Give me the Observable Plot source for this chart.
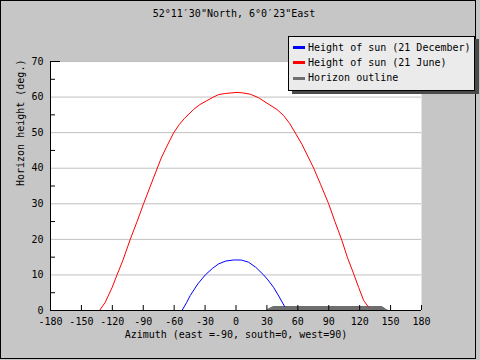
<!DOCTYPE html>
<html>
<head>
<meta charset="utf-8">
<script src="https://cdn.jsdelivr.net/npm/d3@7"></script>
<script src="https://cdn.jsdelivr.net/npm/@observablehq/plot@0.6"></script>
<style>
  html, body { margin: 0; padding: 0; background: #c6c6c6; }
  #wrap { position: relative; width: 480px; height: 360px; background: #c6c6c6; overflow: hidden;
          font-family: "DejaVu Sans Mono", monospace; font-size: 10px; color: #000; }
  #wrap svg { position: absolute; left: 0; top: 0; }
  .abs { position: absolute; white-space: pre; line-height: 12px; }
  #border { position: absolute; left: 0; top: 0; width: 476px; height: 359px; box-sizing: border-box; border: 1px solid #000; }
  #legend { position: absolute; left: 288px; top: 36px; width: 187px; height: 55px; box-sizing: border-box;
            background: #ebebeb; border: 1px solid #000; box-shadow: 4px 3px 0 #4a4a4a; }
  .sw { position: absolute; left: 4px; width: 12px; height: 3px; }
  .lt { position: absolute; left: 19px; line-height: 12px; white-space: pre; }
</style>
</head>
<body>
<div id="wrap"></div>
<script>
// ---- data ----
const title = "52°11′30\"North, 6°0′23\"East";
const xLabel = "Azimuth (east =-90, south=0, west=90)";
const yLabel = "Horizon height (deg.)";
const xTicks = [-180, -150, -120, -90, -60, -30, 0, 30, 60, 90, 120, 150, 180];
const yTicks = [0, 10, 20, 30, 40, 50, 60, 70];
const yMinor = [5, 15, 25, 35, 45, 55, 65];

const seriesNames = ["Height of sun (21 December)", "Height of sun (21 June)", "Horizon outline"];
const seriesColors = ["#0000ff", "#ff0000", "#6e6e6e"];

// 21 June
const junAz = [-132.4, -126.9, -120, -115.5, -110, -102.6, -96, -89.7, -80, -72.5, -66, -60.6, -55, -50, -41.2, -35, -28.2, -22, -16.9, -10.4, 0,
               6, 13.9, 22, 30, 39.8, 46.2, 52, 57.6, 64, 75.4, 82, 89.9, 96, 102.9, 108, 114.2, 119, 123.9, 128.7];
const junH  = [0, 2.3, 6.6, 10, 13.9, 20, 25, 30, 37.3, 42.9, 46.8, 49.9, 52.3, 54, 56.5, 57.9, 59, 60, 60.7, 61.0, 61.3,
               61.2, 60.8, 59.8, 58.3, 56.5, 54.8, 52.6, 49.9, 46.7, 40, 35.5, 30, 25, 19.6, 15, 10.3, 6.5, 2.8, 0.9];
// 21 December
const decAz = [-52.4, -48, -44.4, -37, -29.8, -23, -16.9, -10, -2.3, 5, 12, 19, 26.8, 31, 36.5, 42, 47.2];
const decH  = [0, 2.2, 4.2, 7.5, 10, 11.8, 13.1, 13.9, 14.2, 14.2, 13.6, 12.2, 10, 8.6, 6.5, 3.8, 1.1];
// Horizon outline
const horAz = [29.5, 31, 32.5, 34, 35.5, 37, 141.5, 143, 144.5, 146, 148.2];
const horH  = [0, 0.3, 0.55, 0.8, 1.0, 1.15, 1.15, 0.9, 0.6, 0.3, 0];

const jun = junAz.map((a, i) => ({az: a, h: junH[i]}));
const dec = decAz.map((a, i) => ({az: a, h: decH[i]}));
const hor = horAz.map((a, i) => ({az: a, h: horH[i]}));

const mL = 50, mR = 59, mT = 61, mB = 50, W = 480, H = 360;
const plotW = W - mL - mR, plotH = H - mT - mB;

const chart = Plot.plot({
  width: W, height: H,
  marginLeft: mL, marginRight: mR, marginTop: mT, marginBottom: mB,
  x: {domain: [-180, 180]},
  y: {domain: [0, 70]},
  style: {background: "transparent", fontFamily: "DejaVu Sans Mono, monospace", fontSize: "10px", color: "#000", overflow: "visible"},
  marks: [
    Plot.frame({fill: "#ffffff", stroke: null}),
    Plot.gridY(yTicks.filter(d => d > 0), {stroke: "#c0c0c0", strokeOpacity: 1}),
    Plot.areaY(hor, {x: "az", y: "h", fill: seriesColors[2], curve: "linear"}),
    Plot.line(jun, {x: "az", y: "h", stroke: seriesColors[1], strokeWidth: 1}),
    Plot.line(dec, {x: "az", y: "h", stroke: seriesColors[0], strokeWidth: 1}),
    Plot.ruleX([-180], {stroke: "#000"}),
    Plot.ruleY([0], {stroke: "#000"}),
    Plot.tickX(xTicks.filter(d => d > -180), {x: d => d, stroke: "#000", insetTop: plotH - 5}),
    Plot.tickY(yMinor, {y: d => d, stroke: "#000", insetRight: plotW - 5}),
    Plot.tickY([70], {y: d => d, stroke: "#000", insetRight: plotW - 10}),
    Plot.axisX(xTicks, {tickSize: 0, tickPadding: 7, tickFormat: d => String(d), label: null, fill: "#000"}),
    Plot.axisY(yTicks, {tickSize: 0, tickPadding: 7, tickFormat: d => String(d), label: null, fill: "#000"}),
    Plot.text([xLabel], {text: d => d, frameAnchor: "bottom", dy: 27, fill: "#000"}),
    Plot.text([yLabel], {text: d => d, frameAnchor: "left", rotate: -90, dx: -30, fill: "#000"})
  ]
});

const wrap = document.getElementById("wrap");
wrap.appendChild(chart);

const border = document.createElement("div");
border.id = "border";
wrap.appendChild(border);

const t = document.createElement("div");
t.className = "abs";
t.style.left = "0px"; t.style.width = "468px"; t.style.textAlign = "center"; t.style.top = "8px";
t.textContent = title;
wrap.appendChild(t);

const lg = document.createElement("div");
lg.id = "legend";
[0, 1, 2].forEach((k, i) => {
  const cy = 10.5 + i * 15.3;
  const sw = document.createElement("div");
  sw.className = "sw";
  sw.style.top = (cy - 1.5) + "px";
  sw.style.background = seriesColors[k];
  lg.appendChild(sw);
  const tx = document.createElement("div");
  tx.className = "lt";
  tx.style.top = (cy - 6) + "px";
  tx.textContent = seriesNames[k];
  lg.appendChild(tx);
});
wrap.appendChild(lg);
</script>
</body>
</html>
